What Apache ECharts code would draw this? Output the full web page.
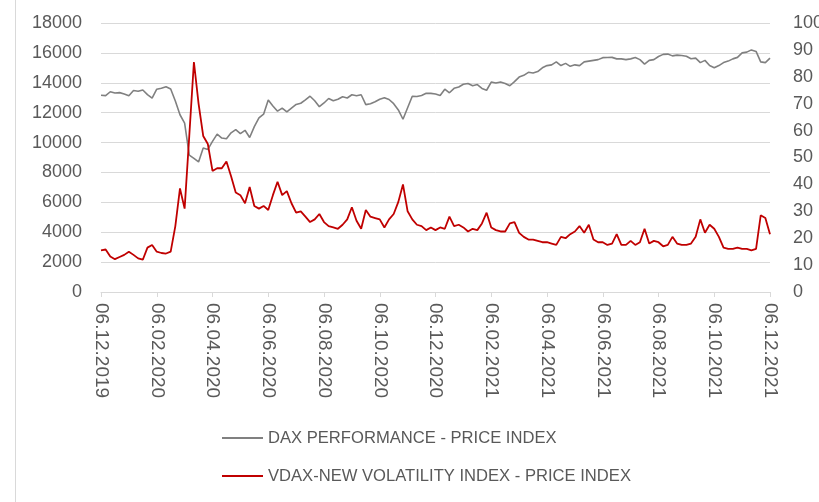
<!DOCTYPE html>
<html>
<head>
<meta charset="utf-8">
<title>DAX / VDAX</title>
<script src="https://cdn.jsdelivr.net/npm/echarts@6/dist/echarts.min.js"></script>
<style>
  html, body { margin: 0; padding: 0; background: #fff; }
  #main { width: 819px; height: 502px; }
</style>
</head>
<body>
<div id="main"></div>
<script>
// dates, roughly every 5 days, 12 steps between the 2-month labels
var dates = [
  '06.12.2019','11.12.2019','16.12.2019','21.12.2019','27.12.2019','01.01.2020','06.01.2020','11.01.2020','16.01.2020','22.01.2020','27.01.2020','01.02.2020',
  '06.02.2020','11.02.2020','16.02.2020','21.02.2020','26.02.2020','02.03.2020','07.03.2020','12.03.2020','17.03.2020','22.03.2020','27.03.2020','01.04.2020',
  '06.04.2020','11.04.2020','16.04.2020','21.04.2020','26.04.2020','01.05.2020','06.05.2020','11.05.2020','16.05.2020','21.05.2020','27.05.2020','01.06.2020',
  '06.06.2020','11.06.2020','16.06.2020','21.06.2020','26.06.2020','01.07.2020','06.07.2020','11.07.2020','16.07.2020','21.07.2020','27.07.2020','01.08.2020',
  '06.08.2020','11.08.2020','16.08.2020','21.08.2020','26.08.2020','31.08.2020','05.09.2020','10.09.2020','15.09.2020','21.09.2020','26.09.2020','01.10.2020',
  '06.10.2020','11.10.2020','16.10.2020','21.10.2020','26.10.2020','31.10.2020','05.11.2020','10.11.2020','15.11.2020','21.11.2020','26.11.2020','01.12.2020',
  '06.12.2020','11.12.2020','16.12.2020','21.12.2020','27.12.2020','01.01.2021','06.01.2021','11.01.2021','16.01.2021','22.01.2021','27.01.2021','01.02.2021',
  '06.02.2021','11.02.2021','16.02.2021','21.02.2021','26.02.2021','03.03.2021','08.03.2021','13.03.2021','18.03.2021','23.03.2021','28.03.2021','02.04.2021',
  '06.04.2021','11.04.2021','16.04.2021','21.04.2021','26.04.2021','01.05.2021','06.05.2021','11.05.2021','16.05.2021','21.05.2021','27.05.2021','01.06.2021',
  '06.06.2021','11.06.2021','16.06.2021','21.06.2021','26.06.2021','01.07.2021','06.07.2021','11.07.2021','16.07.2021','21.07.2021','27.07.2021','01.08.2021',
  '06.08.2021','11.08.2021','16.08.2021','21.08.2021','26.08.2021','31.08.2021','05.09.2021','10.09.2021','15.09.2021','21.09.2021','26.09.2021','01.10.2021',
  '06.10.2021','11.10.2021','16.10.2021','21.10.2021','26.10.2021','31.10.2021','05.11.2021','10.11.2021','15.11.2021','21.11.2021','26.11.2021','01.12.2021',
  '06.12.2021'
];

// DAX, left axis
var dax = [
  13170,13140,13400,13320,13340,13250,13130,13480,13430,13520,13210,12980,
  13570,13630,13730,13580,12780,11860,11300,9160,8940,8700,9630,9540,
  10080,10560,10300,10250,10650,10860,10600,10820,10340,11070,11650,11900,
  12850,12450,12100,12300,12050,12300,12550,12630,12850,13100,12800,12400,
  12650,12950,12800,12900,13070,12980,13200,13130,13200,12540,12600,12730,
  12900,13000,12880,12600,12180,11560,12330,13100,13080,13150,13300,13290,
  13250,13150,13570,13330,13630,13720,13900,13950,13800,13880,13620,13500,
  14050,13980,14050,13950,13800,14080,14380,14500,14700,14650,14750,15000,
  15150,15200,15400,15150,15300,15100,15200,15150,15400,15450,15500,15550,
  15680,15690,15700,15600,15600,15550,15600,15690,15550,15250,15500,15550,
  15760,15900,15920,15800,15850,15830,15780,15610,15650,15350,15500,15150,
  15000,15150,15350,15450,15600,15700,16000,16050,16200,16100,15400,15350,
  15650
];

// VDAX-NEW, right axis
var vdax = [
  15.5,15.8,13.2,12.2,13.0,13.8,15.0,13.8,12.5,12.0,16.5,17.5,
  15.0,14.5,14.3,15.0,24.5,38.5,31,58,85.5,70,58,55,
  45,46,46,48.5,43,37,36,33,39,32,31,32,
  30.5,36,41,36,37.5,33,29.5,30,28,26,27,29,
  26,24.5,24,23.5,25,27,31.5,26.5,23.5,30.5,28,27.5,
  27,24,27,29,33.5,40,30,27,25,24.5,23,24,
  23,24,23.5,28,24.5,25,24,22.5,23.5,23,25.5,29.5,
  24,23,22.5,22.5,25.5,26,22,20.5,19.5,19.5,19,18.5,
  18.5,18,17.5,20.5,20,21.5,22.5,24.5,22,25,19.5,18.5,
  18.5,17.5,18,21.5,17.5,17.5,19,17.5,18.5,23.5,18,19,
  18.5,17,17.5,20.5,18,17.5,17.5,18,20.5,27,22,25,
  23.5,20.5,16.5,16,16,16.5,16,16,15.5,16,28.5,27.5,
  21.5
];

var seriesNames = ['DAX PERFORMANCE - PRICE INDEX', 'VDAX-NEW VOLATILITY INDEX - PRICE INDEX'];

var myChart = echarts.init(document.getElementById('main'));
var font = 'Liberation Sans';

var option = {
  animation: false,
  backgroundColor: '#fff',
  textStyle: { fontFamily: font },
  grid: { left: 101, right: 49, top: 23, bottom: 210, containLabel: false, outerBoundsMode: 'none' },
  legend: {
    orient: 'vertical',
    left: 217,
    top: 423,
    itemWidth: 41,
    itemHeight: 2,
    itemGap: 18,
    icon: 'rect',
    data: seriesNames,
    textStyle: { fontFamily: font, fontSize: 16.6, color: '#595959', lineHeight: 20 }
  },
  xAxis: {
    type: 'category',
    boundaryGap: false,
    data: dates,
    axisLine: { lineStyle: { color: '#d9d9d9', width: 1 } },
    axisTick: { interval: 11, length: 5, lineStyle: { color: '#d9d9d9' } },
    axisLabel: { interval: 11, rotate: -90, margin: 11, fontSize: 19, color: '#595959', fontFamily: font }
  },
  yAxis: [
    {
      type: 'value', min: 0, max: 18000, interval: 2000,
      axisLine: { show: false }, axisTick: { show: false },
      splitLine: { lineStyle: { color: '#d9d9d9', width: 1 } },
      axisLabel: { margin: 19, fontSize: 18, color: '#595959', fontFamily: font,
        formatter: function (v) { return String(v); } }
    },
    {
      type: 'value', min: 0, max: 100, interval: 10,
      axisLine: { show: false }, axisTick: { show: false },
      splitLine: { show: false },
      axisLabel: { margin: 23, fontSize: 18, color: '#595959', fontFamily: font }
    }
  ],
  series: [
    {
      name: seriesNames[0], type: 'line', yAxisIndex: 0, data: dax,
      showSymbol: false, symbol: 'none',
      lineStyle: { color: '#808080', width: 1.6 }, itemStyle: { color: '#808080' }
    },
    {
      name: seriesNames[1], type: 'line', yAxisIndex: 1, data: vdax,
      showSymbol: false, symbol: 'none',
      lineStyle: { color: '#c00000', width: 1.8 }, itemStyle: { color: '#c00000' }
    }
  ],
  graphic: [
    { type: 'line', shape: { x1: 15.5, y1: 0, x2: 15.5, y2: 502 }, style: { stroke: '#d9d9d9', lineWidth: 1 } }
  ]
};

myChart.setOption(option);
</script>
</body>
</html>
